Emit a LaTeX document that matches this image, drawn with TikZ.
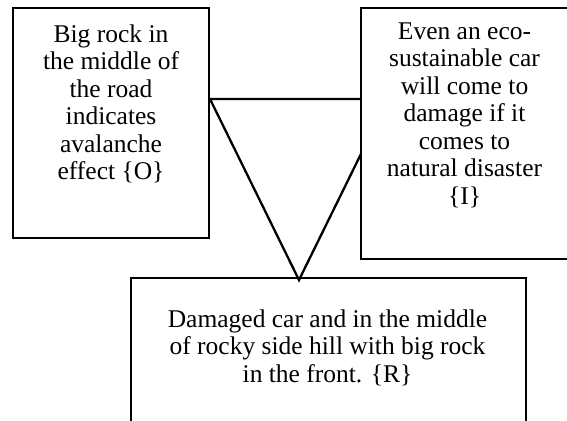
\documentclass[tikz,border=0pt]{standalone}
\usepackage{fontspec}
\setmainfont{Liberation Serif}
\begin{document}
\begin{tikzpicture}[x=1pt,y=-1pt,
  boxshape/.style={draw=black,fill=white,line width=1.3pt,inner sep=0pt,outer sep=0pt},
  boxtext/.style={align=center,inner sep=0pt,anchor=north,
    font=\fontsize{25.5pt}{27.5pt}\selectfont},
  triline/.style={draw=black,line width=2.3pt,line join=miter}]
\useasboundingbox (0,0) rectangle (567,420);
% triangle
\coordinate (tl) at (210,99);
\coordinate (tr) at (388,99);
\coordinate (tb) at (299,280);
\draw[triline] (tl) -- (tr) -- (tb) -- cycle;
% boxes
\node[boxshape,minimum width=196pt,minimum height=230pt] (lbox) at (111,123) {};
\node[boxshape,minimum width=210pt,minimum height=251pt] (rbox) at (466,133.5) {};
\node[boxshape,fill=none,line width=2.3pt,minimum width=395pt,minimum height=152pt] (bbox) at (328.5,354) {};
% texts
\node[boxtext] (ltext) at ([yshift=-14.75pt]lbox.north)
  {\strut Big rock in\\the middle of\\the road\\indicates\\avalanche\\effect \{O\}};
\node[boxtext] (rtext) at ([yshift=-11.75pt,xshift=-1.5pt]rbox.north)
  {\strut Even an eco-\\sustainable car\\will come to\\damage if it\\comes to\\natural disaster\\\{I\}};
\node[boxtext] (btext) at ([yshift=-29.75pt,xshift=-1pt]bbox.north)
  {\strut Damaged car and in the middle\\of rocky side hill with big rock\\in the front. \{R\}};
\end{tikzpicture}
\end{document}
